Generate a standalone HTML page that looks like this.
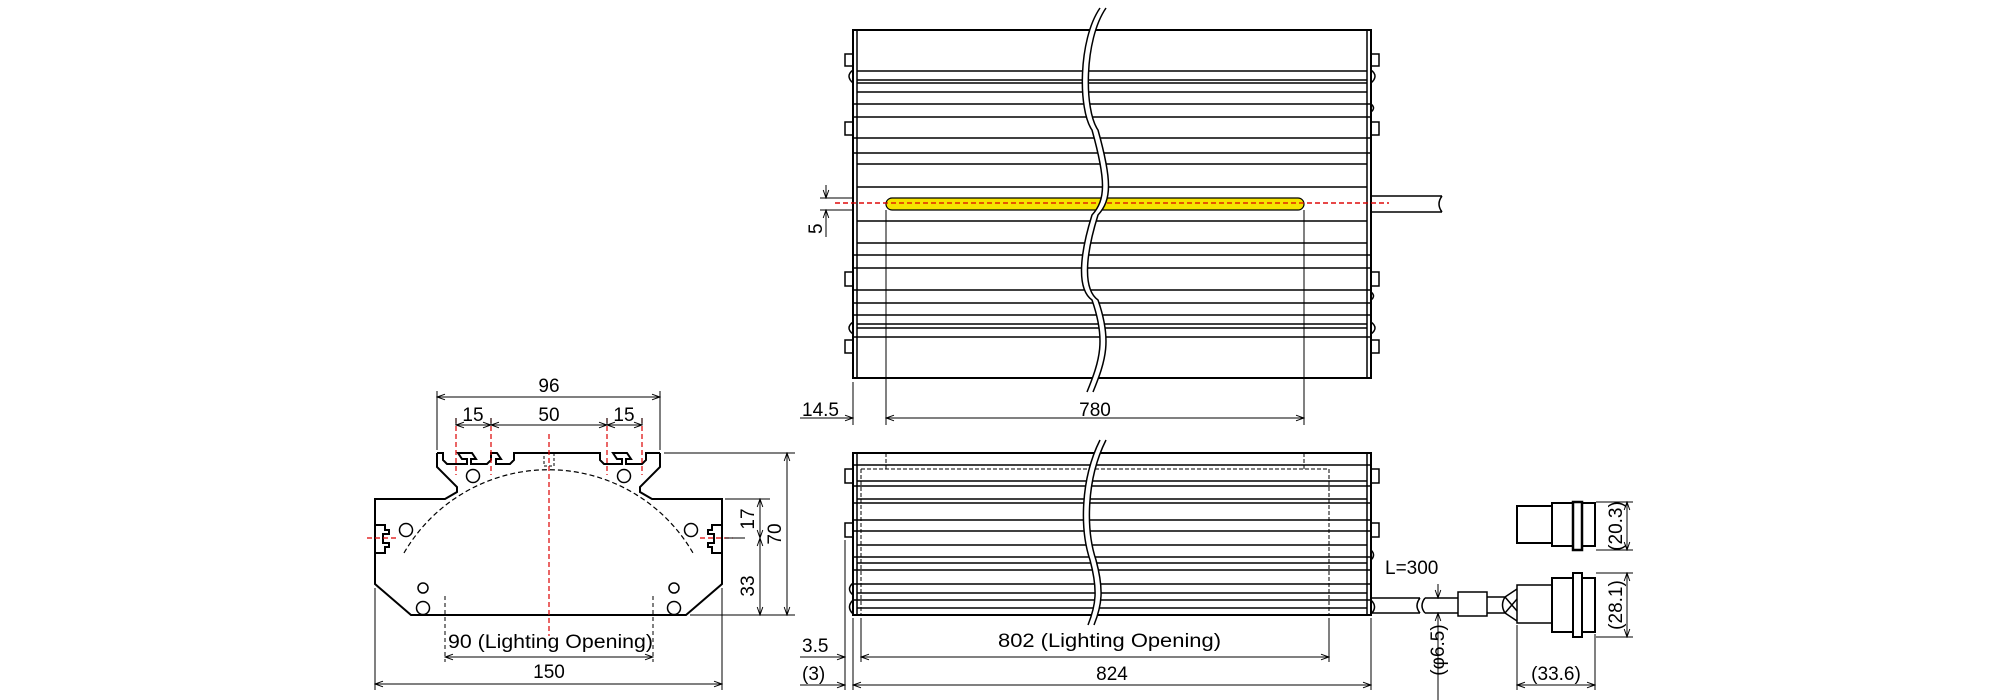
<!DOCTYPE html>
<html><head><meta charset="utf-8"><style>
html,body{margin:0;padding:0;background:#fff;}
svg{display:block;}
text{font-family:"Liberation Sans",sans-serif;font-size:19px;fill:#000;}
</style></head><body>
<svg width="2000" height="700" viewBox="0 0 2000 700" xmlns="http://www.w3.org/2000/svg">
<defs>
<marker id="a" viewBox="0 0 10 10" refX="10" refY="5" markerWidth="10" markerHeight="8" orient="auto-start-reverse" markerUnits="userSpaceOnUse"><path d="M0,1.5 L10,5 L0,8.5" fill="none" stroke="#000" stroke-width="1.2"/></marker>
</defs>
<g fill="none" stroke="#000" stroke-width="1.5">
<!-- ===== END VIEW ===== -->
<path d="M437,453 L437,467 L457,487 L457,492 L445,499 L375,499 L375,584 L411,615 L686,615 L722,584 L722,499 L652,499 L640,492 L640,487 L660,467 L660,453" stroke-width="2"/>
<!-- top with slots -->
<path d="M437,453 H443 V460 L447,464 H467 V459 L462,459 L458,453 H472 L476,459 H471 V464 H487 L491,460 V453 H497 L501,459 H496 V464 H510 L514,460 V453 H600 V460 L604,464 H622 V459 L617,459 L613,453 H627 L631,459 H626 V464 H642 L646,460 V453 H660" stroke-width="2"/>
<rect x="544" y="453" width="10" height="13" stroke-width="1" stroke-dasharray="3,2"/>
<!-- side slots -->
<path d="M375,525 H385 V530 H389 V534 H383 V543 H389 V547 H385 V553 H375" stroke-width="2"/>
<path d="M722,525 H712 V530 H708 V534 H714 V543 H708 V547 H712 V553 H722" stroke-width="2"/>
<circle cx="473" cy="476" r="6.5"/><circle cx="624" cy="476" r="6.5"/>
<circle cx="406" cy="530" r="6.5"/><circle cx="691" cy="530" r="6.5"/>
<circle cx="423" cy="588" r="5"/><circle cx="423" cy="608" r="6.5"/>
<circle cx="674" cy="588" r="5"/><circle cx="674" cy="608" r="6.5"/>
<path d="M404,553 A167,167 0 0 1 693,553" stroke-width="1.2" stroke-dasharray="5,3"/>
<path d="M445,596 V662 M653,596 V662" stroke-width="1" stroke-dasharray="4,3"/>
</g>
<g stroke="#d00" stroke-width="1.2" stroke-dasharray="5,3" fill="none">
<path d="M549,434 V636"/>
<path d="M367,538 H398 M700,538 H733"/>
<path d="M456,418 V475 M491,418 V475 M607,418 V475 M642,418 V475"/>
<path d="M835,203 H1389"/>
</g>
<g stroke="#000" stroke-width="1" fill="none">
<!-- end view dims -->
<path d="M437,450 V391 M660,450 V391"/>
<path d="M437,397 H660" marker-start="url(#a)" marker-end="url(#a)"/>
<path d="M456,425 H491" marker-start="url(#a)" marker-end="url(#a)"/>
<path d="M491,425 H607" marker-start="url(#a)" marker-end="url(#a)"/>
<path d="M607,425 H642" marker-start="url(#a)" marker-end="url(#a)"/>
<path d="M456,418 V425 M491,418 V425 M607,418 V425 M642,418 V425"/>
<path d="M664,453 H795 M725,499 H770 M725,538 H745 M690,615 H795"/>
<path d="M787,453 V615" marker-start="url(#a)" marker-end="url(#a)"/>
<path d="M760,499 V538" marker-start="url(#a)" marker-end="url(#a)"/>
<path d="M760,538 V615" marker-start="url(#a)" marker-end="url(#a)"/>
<path d="M445,657 H653" marker-start="url(#a)" marker-end="url(#a)"/>
<path d="M375,588 V690 M722,588 V690"/>
<path d="M375,684 H722" marker-start="url(#a)" marker-end="url(#a)"/>
</g>
<g>
<text x="549" y="392" text-anchor="middle">96</text>
<text x="473" y="421" text-anchor="middle">15</text>
<text x="549" y="421" text-anchor="middle">50</text>
<text x="624" y="421" text-anchor="middle">15</text>
<text transform="translate(781,534) rotate(-90)" text-anchor="middle">70</text>
<text transform="translate(754,519) rotate(-90)" text-anchor="middle">17</text>
<text transform="translate(754,586) rotate(-90)" text-anchor="middle">33</text>
<text x="448" y="648" textLength="205" lengthAdjust="spacingAndGlyphs">90 (Lighting Opening)</text>
<text x="549" y="678" text-anchor="middle">150</text>
</g>

<!-- ===== TOP VIEW ===== -->
<g fill="none" stroke="#000" stroke-width="1.5">
<rect x="853" y="30" width="518" height="348" stroke-width="2"/>
<path d="M857,30 V378 M1367,30 V378"/>
<path d="M857,71 H1367 M857,80 H1367 M857,83 H1367 M857,92 H1367 M853,104 H1371 M853,117 H1371 M853,138 H1371 M853,153 H1371 M857,164 H1367 M857,187 H1367 M857,221 H1367 M857,243 H1367 M853,255 H1371 M853,268 H1371 M853,290 H1371 M853,303 H1371 M853,315 H1371 M857,324 H1367 M857,328 H1367 M853,337 H1371"/>
<rect x="845" y="54" width="8" height="12"/><rect x="845" y="122" width="8" height="13"/>
<rect x="845" y="272" width="8" height="14"/><rect x="845" y="340" width="8" height="13"/>
<rect x="1371" y="54" width="8" height="12"/><rect x="1371" y="122" width="8" height="13"/>
<rect x="1371" y="272" width="8" height="14"/><rect x="1371" y="340" width="8" height="13"/>
<path d="M853,70 Q845,76 853,83 M853,322 Q845,328 853,334 M1371,70 Q1379,76 1371,83 M1371,104 Q1376,108 1371,112 M1371,292 Q1376,296 1371,300 M1371,322 Q1379,328 1371,334"/>
<rect x="886" y="198" width="418" height="12" rx="6" fill="#f5e400" stroke-width="1.2"/>
<path d="M1371,196 H1442 M1371,212 H1442 M1442,196 Q1436,204 1442,212"/>
</g>
<path d="M835,203 H1389" stroke="#d00" stroke-width="1.2" stroke-dasharray="5,3"/>
<!-- wave break top -->
<path d="M1100,8 C1078,40 1078,110 1092,130 C1106,180 1106,200 1092,215 C1078,260 1078,290 1092,300 C1106,340 1100,360 1087,392 L1093,392 C1106,360 1112,340 1098,300 C1084,290 1084,260 1098,215 C1112,200 1112,180 1098,130 C1084,110 1084,40 1106,8 Z" fill="#fff" stroke="none"/>
<path d="M1100,8 C1078,40 1078,110 1092,130 C1106,180 1106,200 1092,215 C1078,260 1078,290 1092,300 C1106,340 1100,360 1087,392 M1106,8 C1084,40 1084,110 1098,130 C1112,180 1112,200 1098,215 C1084,260 1084,290 1098,300 C1112,340 1106,360 1093,392" fill="none" stroke="#000" stroke-width="1.5"/>
<g stroke="#000" stroke-width="1" fill="none">
<path d="M853,382 V425 M886,210 V425 M1304,210 V425"/>
<path d="M800,418 H853" marker-end="url(#a)"/>
<path d="M886,418 H1304" marker-start="url(#a)" marker-end="url(#a)"/>
<path d="M820,198 H853 M820,210 H853"/>
<path d="M826,185 V198" marker-end="url(#a)"/>
<path d="M826,237 V210" marker-end="url(#a)"/>
</g>
<text x="802" y="416">14.5</text>
<text x="1095" y="416" text-anchor="middle">780</text>
<text transform="translate(822,234) rotate(-90)">5</text>

<!-- ===== FRONT VIEW ===== -->
<g fill="none" stroke="#000" stroke-width="1.5">
<rect x="853" y="453" width="518" height="162" stroke-width="2"/>
<path d="M857,453 V615 M1367,453 V615"/>
<path d="M853,465 H1371 M857,481 H1367 M853,486 H1371 M857,499 H1367 M853,503 H1371 M853,520 H1371 M853,531 H1371 M857,545 H1367 M853,557 H1371 M857,563 H1367 M853,570 H1371 M853,584 H1371 M857,593 H1367 M853,600 H1371 M857,608 H1367"/>
<rect x="845" y="469" width="8" height="14"/><rect x="845" y="523" width="8" height="14"/>
<rect x="1371" y="469" width="8" height="14"/><rect x="1371" y="523" width="8" height="14"/>
<path d="M853,583 Q846,589 853,595 M853,600 Q846,607 853,614 M1371,550 Q1376,555 1371,560 M1371,600 Q1378,607 1371,614"/>
<path d="M861,469 H1329 V615 M861,469 V615 M886,453 V469 M1304,453 V469" stroke-width="1" stroke-dasharray="4,2"/>
<!-- cable -->
<path d="M1371,598 H1420 M1371,613 H1420 M1420,598 Q1414,606 1420,613 M1425,598 Q1419,606 1425,613 M1425,598 H1458 M1425,613 H1458"/>
<rect x="1458" y="592" width="29" height="24"/>
<path d="M1487,597 H1505 M1487,613 H1505 M1505,597 L1517,589 M1505,613 L1517,621 M1505,597 Q1500,605 1505,613 M1505,597 L1517,611 M1505,613 L1517,599"/>
<!-- lower connector -->
<rect x="1517" y="585" width="35" height="38"/>
<rect x="1552" y="578" width="21" height="54" stroke-width="2"/>
<rect x="1573" y="573" width="9" height="64" stroke-width="2"/>
<rect x="1582" y="578" width="13" height="54" stroke-width="2"/>
<!-- upper connector -->
<rect x="1517" y="506" width="35" height="37" stroke-width="2"/>
<rect x="1552" y="503" width="21" height="43" stroke-width="2"/>
<rect x="1573" y="502" width="9" height="48" stroke-width="2.5"/>
<rect x="1582" y="503" width="13" height="43" stroke-width="2"/>
</g>
<!-- wave break bottom -->
<path d="M1100,440 C1080,480 1080,530 1090,560 C1098,590 1096,605 1088,625 L1094,625 C1102,605 1104,590 1096,560 C1086,530 1086,480 1106,440 Z" fill="#fff"/>
<path d="M1100,440 C1080,480 1080,530 1090,560 C1098,590 1096,605 1088,625 M1106,440 C1086,480 1086,530 1096,560 C1104,590 1102,605 1094,625" fill="none" stroke="#000" stroke-width="1.5"/>
<g stroke="#000" stroke-width="1" fill="none">
<path d="M845,540 V690 M853,618 V690 M861,618 V662 M1329,618 V662 M1371,618 V690"/>
<path d="M861,657 H1329" marker-start="url(#a)" marker-end="url(#a)"/>
<path d="M853,685 H1371" marker-start="url(#a)" marker-end="url(#a)"/>
<path d="M800,657 H845" marker-end="url(#a)"/>
<path d="M800,685 H845" marker-end="url(#a)"/>
<path d="M1438,584 V598" marker-end="url(#a)"/>
<path d="M1438,700 V613" marker-end="url(#a)"/>
<path d="M1517,625 V690 M1595,634 V690"/>
<path d="M1517,685 H1595" marker-start="url(#a)" marker-end="url(#a)"/>
<path d="M1596,502 H1633 M1596,550 H1633 M1596,573 H1633 M1596,637 H1633"/>
<path d="M1627,502 V550" marker-start="url(#a)" marker-end="url(#a)"/>
<path d="M1627,573 V637" marker-start="url(#a)" marker-end="url(#a)"/>
</g>
<text x="802" y="652">3.5</text>
<text x="802" y="680">(3)</text>
<text x="998" y="647" textLength="223" lengthAdjust="spacingAndGlyphs">802 (Lighting Opening)</text>
<text x="1112" y="680" text-anchor="middle">824</text>
<text x="1385" y="574">L=300</text>
<text transform="translate(1444,650) rotate(-90)" text-anchor="middle">(φ6.5)</text>
<text x="1556" y="680" text-anchor="middle">(33.6)</text>
<text transform="translate(1622,526) rotate(-90)" text-anchor="middle">(20.3)</text>
<text transform="translate(1622,605) rotate(-90)" text-anchor="middle">(28.1)</text>
</svg>
</body></html>
